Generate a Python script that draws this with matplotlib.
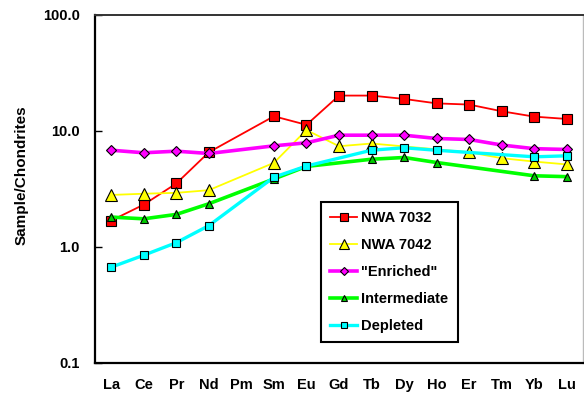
import numpy as np
import matplotlib
matplotlib.use("Agg")
import matplotlib.pyplot as plt
from matplotlib.ticker import FixedLocator, NullLocator, FixedFormatter

plt.rcParams['font.family'] = ['Liberation Sans', 'DejaVu Sans']

elements = ["La", "Ce", "Pr", "Nd", "Pm", "Sm", "Eu", "Gd", "Tb", "Dy", "Ho", "Er", "Tm", "Yb", "Lu"]
nan = np.nan
nwa7032 = [1.69, 2.32, 3.53, 6.56, nan, 13.4, 11.3, 20.2, 20.2, 18.9, 17.3, 16.9, 14.8, 13.3, 12.7]
nwa7042 = [2.81, 2.88, 2.93, 3.09, nan, 5.32, 10.2, 7.39, 7.80, nan, nan, 6.56, 5.83, 5.45, 5.15]
enriched = [6.83, 6.49, 6.70, 6.40, nan, 7.45, 7.91, 9.20, 9.20, 9.20, 8.62, 8.45, 7.57, 7.04, 6.93]
intermediate = [1.81, 1.75, 1.91, 2.36, nan, 3.86, 4.95, nan, 5.71, 5.91, 5.35, nan, nan, 4.11, 4.04]
depleted = [0.67, 0.85, 1.09, 1.53, nan, 4.00, 4.99, nan, 6.83, 7.17, 6.82, nan, nan, 5.99, 6.11]
series_names = ["NWA 7032", "NWA 7042", "\"Enriched\"", "Intermediate", "Depleted"]
yticks = [0.1, 1.0, 10.0, 100.0]
ytick_labels = ["0.1", "1.0", "10.0", "100.0"]

styles = [
    dict(color="#FF0000", lw=1.3, marker="s", ms=7.8, mfc="#FF0000"),
    dict(color="#FFFF00", lw=1.3, marker="^", ms=8.2, mfc="#FFFF00"),
    dict(color="#FF00FF", lw=2.6, marker="D", ms=4.6, mfc="#FF00FF"),
    dict(color="#00FF00", lw=2.6, marker="^", ms=5.5, mfc="#00CC00"),
    dict(color="#00FFFF", lw=2.4, marker="s", ms=5.8, mfc="#00FFFF"),
]

fig = plt.figure(figsize=(5.84, 3.97), dpi=100)
ax = fig.add_axes([95/584, 1-363/397, 488/584, 348/397])

x = np.arange(len(elements))
for i, (name, vals) in enumerate(zip(series_names, [nwa7032, nwa7042, enriched, intermediate, depleted])):
    v = np.array(vals, dtype=float)
    m = ~np.isnan(v)
    st = styles[i]
    ax.plot(x[m], v[m], color=st["color"], lw=st["lw"], marker=st["marker"], ms=st["ms"],
            mfc=st["mfc"], mec="black", mew=0.8, label=name, zorder=2+i)

ax.set_yscale("log")
ax.set_ylim(0.1, 100)
ax.set_xlim(-0.5, len(elements)-0.5)
ax.yaxis.set_major_locator(FixedLocator(yticks))
ax.yaxis.set_major_formatter(FixedFormatter(ytick_labels))
ax.yaxis.set_minor_locator(NullLocator())
ax.set_xticks(x)
ax.set_xticklabels(elements)
ax.tick_params(axis="x", length=0, pad=10.5, labelsize=10.5)
ax.tick_params(axis="y", direction="in", length=5, width=1, pad=11, labelsize=10.5)
for lab in ax.get_xticklabels() + ax.get_yticklabels():
    lab.set_fontweight("bold")

for s in ["left", "bottom"]:
    ax.spines[s].set_linewidth(1.6)
    ax.spines[s].set_color("black")
ax.spines["top"].set_linewidth(1.4)
ax.spines["top"].set_color("#333333")
ax.spines["right"].set_linewidth(1.0)
ax.spines["right"].set_color("#BBBBBB")

fig.text(22/584, 1-175/397, "Sample/Chondrites", rotation=90, ha="center", va="center",
         fontsize=11, fontweight="bold")

leg = ax.legend(loc="upper left", bbox_to_anchor=((321-95)/488, (363-202)/348), borderaxespad=0,
                frameon=True, fancybox=False, edgecolor="black", framealpha=1,
                prop=dict(weight="bold", size=10.5), markerscale=0.8,
                labelspacing=0.88, handlelength=1.8, handletextpad=0.3, borderpad=0.65)
leg.get_frame().set_linewidth(1.5)

fig.savefig("out.png", dpi=100)
